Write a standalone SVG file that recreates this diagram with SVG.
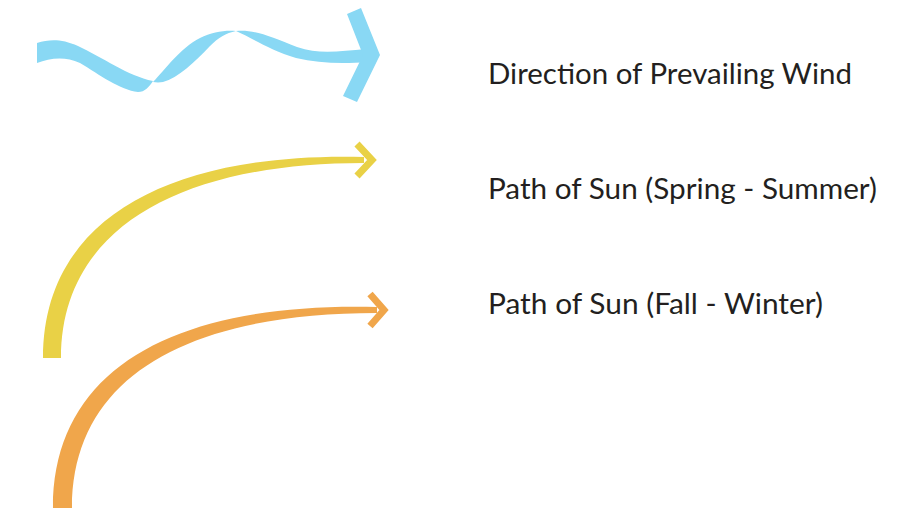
<svg xmlns="http://www.w3.org/2000/svg" width="916" height="513" viewBox="0 0 916 513">
  <style>
    .lbl { font-family: "Lato", "Liberation Sans", sans-serif; font-size: 29.5px; fill: #231f20; }
    .wind { fill: #89d8f4; }
    .spring { fill: #e9d146; }
    .fall { fill: #f0a64b; }
  </style>
  <rect width="916" height="513" fill="#ffffff"/>
  <g id="wind-arrow">
    <path class="wind" d="M37,43 C50,39 62,39 78,46 C102,57 128,76 153,81 C149,87 145,92 138,92 C120,90 100,75 80,63 C65,56 50,58 37,63 Z"/>
    <path class="wind" d="M153,82 C165,70 180,48 200,38 C212,32 225,30 236,31 C226,33 218,38 210,46 C195,62 178,78 163,82 C160,82.5 156,82.5 153,82 Z"/>
    <path class="wind" d="M236,31 C252,29 270,36 297,47 C320,55 340,51 366,49 L368,62 C340,64 318,63 296,58 C270,50 252,38 236,31 Z"/>
    <polygon class="wind" points="347,14 361,8 380,55 357,102 343,96 363,55"/>
  </g>
  <g id="spring-arrow">
    <path class="spring" d="M43,358 C43,215 175,152 364,157 L364,163 C185,163 61,225 61,358 Z"/>
    <polyline points="357,144 372,160 357,176" fill="none" stroke="#e9d146" stroke-width="7"/>
  </g>
  <g id="fall-arrow">
    <path class="fall" d="M53,508 C53,365 180,302 377,307 L377,313 C190,313 72,375 72,508 Z"/>
    <polyline points="370,294 384,310 370,326" fill="none" stroke="#f0a64b" stroke-width="7"/>
  </g>
  <g id="labels">
    <text class="lbl" x="488" y="84" textLength="364" lengthAdjust="spacingAndGlyphs">Direction of Prevailing Wind</text>
    <text class="lbl" x="488" y="199" textLength="389" lengthAdjust="spacingAndGlyphs">Path of Sun (Spring - Summer)</text>
    <text class="lbl" x="488" y="314" textLength="335" lengthAdjust="spacingAndGlyphs">Path of Sun (Fall - Winter)</text>
  </g>
</svg>
